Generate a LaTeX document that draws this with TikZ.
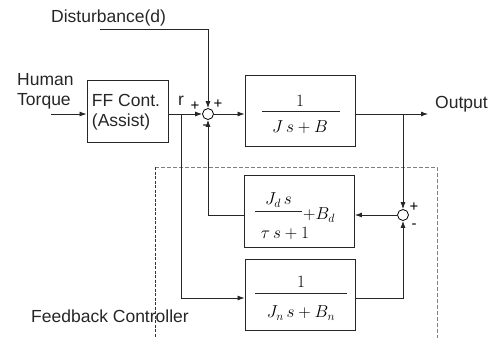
\documentclass[tikz,border=0pt]{standalone}
\usepackage[no-math]{fontspec}
\setmainfont{Liberation Sans}
\usetikzlibrary{arrows.meta}
\tikzset{
  blk/.style={draw, line width=0.9pt, black!85, inner sep=0pt},
  sumj/.style={draw, circle, line width=0.8pt, minimum size=11pt, inner sep=0pt},
  lbl/.style={font=\fontsize{17.5}{20}\selectfont, text=black!85, inner sep=0pt},
  sgn/.style={font=\fontsize{15}{17}\selectfont, inner sep=0pt},
  mth/.style={font=\fontsize{17.28}{20}\selectfont, inner sep=0pt},
  wire/.style={line width=0.8pt, black!85},
  arr/.style={wire, -{Latex[length=7pt,width=5pt]}},
  bar/.style={line width=0.7pt, black!85},
}
\begin{document}
\begin{tikzpicture}[x=1pt,y=-1pt]
\useasboundingbox (0,0) rectangle (501,338);
% dashed feedback controller region
\draw[gray, line width=0.8pt, dash pattern=on 4pt off 2pt] (155,167) -- (437,167) -- (437,338);
\draw[black!80, line width=0.7pt, dash pattern=on 3pt off 1.5pt] (155,167) -- (155,338);
% blocks
\node[blk, minimum width=81pt, minimum height=62pt] (ff) at (127.5,111) {};
\node[lbl, align=left] (fftext) at (126,112) {FF Cont.\\(Assist)};
\node[blk, minimum width=110pt, minimum height=71pt] (plant) at (300,110.5) {};
\node[blk, minimum width=110pt, minimum height=72pt] (fbd) at (299.5,211) {};
\node[blk, minimum width=110pt, minimum height=71pt] (fbn) at (300,294.5) {};
% fractions
\node[mth] (pnum) at (300,101) {$1$};
\draw[bar] (262,111) -- (340,111);
\node[mth] (pden) at (300,127) {$J\,s+B$};
\node[mth] (dnum) at (278.5,200) {$J_d\,s$};
\draw[bar] (255,211.5) -- (302,211.5);
\node[mth] (dden) at (285,233) {$\tau\,s+1$};
\node[mth, anchor=west] (dplus) at (303,215) {$+B_d$};
\node[mth] (nnum) at (301,282) {$1$};
\draw[bar] (255,293) -- (347,293);
\node[mth] (nden) at (301,313) {$J_n\,s+B_n$};
% summing junctions
\node[sumj] (s1) at (208,114) {};
\node[sumj] (s2) at (403,215) {};
% labels
\node[lbl, anchor=west] (dist) at (51,18) {Disturbance(d)};
\node[lbl, anchor=west, align=left] (human) at (17,91) {Human\\Torque};
\node[lbl, anchor=west] (out) at (435,104) {Output};
\node[lbl, anchor=west] (fbc) at (31,316) {Feedback Controller};
\node[lbl] (rl) at (181,101) {r};
\node[sgn] (p1) at (195,106) {+};
\node[sgn] (p2) at (218,104) {+};
\node[sgn] (m1) at (205,127) {-};
\node[sgn] (p3) at (414,207) {+};
\node[sgn] (m2) at (414,226) {-};
% coordinates
\coordinate (hin) at (51,114);
\coordinate (dstart) at (100,29);
\coordinate (rb) at (181,114);
\coordinate (ob) at (403,114);
\coordinate (oend) at (428,114);
% connectors
\draw[arr] (hin) -- (ff.west |- hin);
\draw[arr] (ff.east |- s1) -- (s1.west);
\draw[arr] (dstart) -| (s1.north);
\draw[arr] (s1.east) -- (plant.west |- s1);
\draw[arr] (plant.east |- s1) -- (oend);
\draw[arr] (ob) -- (s2.north);
\draw[arr] (s2.west) -- (fbd.east |- s2);
\draw[arr] (fbd.west |- s2) -| (s1.south);
\draw[arr] (rb) |- (fbn.west |- 0,298);
\draw[arr] (fbn.east |- 0,298) -| (s2.south);
\end{tikzpicture}
\end{document}
